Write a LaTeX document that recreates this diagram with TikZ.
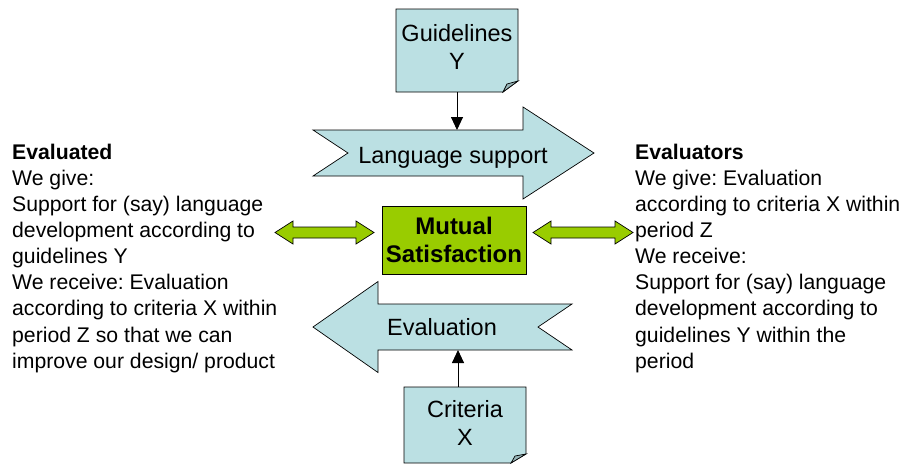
\documentclass[tikz,border=0pt]{standalone}
\usepackage{fontspec}
\setmainfont{Liberation Sans}
\usetikzlibrary{arrows.meta}
\definecolor{paleblue}{RGB}{187,224,227}
\definecolor{foldblue}{RGB}{150,180,183}
\definecolor{limegreen}{RGB}{153,204,0}
\frenchspacing
\begin{document}
\begin{tikzpicture}[x=1pt,y=-1pt,
  shapeline/.style={draw=black, line width=0.7pt, line join=miter},
  bluefill/.style={shapeline, fill=paleblue},
  greenfill/.style={shapeline, fill=limegreen},
  notebox/.style={inner sep=0pt, minimum width=122pt, minimum height=83pt},
  sidetext/.style={inner sep=0pt, align=left, anchor=north west, font=\fontsize{21.2}{26.1}\selectfont},
  boxtext/.style={inner sep=0pt, align=center, font=\fontsize{23.5}{28}\selectfont},
  conn/.style={line width=0.9pt, -{Triangle[length=13pt,width=12pt]}}
]
\useasboundingbox (0,0) rectangle (905,464);

% Guidelines note
\node[notebox] (guide) at (457,50.5) {};
\path[bluefill] (396,9) -- (518,9) -- (518,81) -- (503,92) -- (396,92) -- cycle;
\path[shapeline, fill=foldblue] (503,92) -- (507,84) -- (518,81) -- cycle;
\node[boxtext] (guidetext) at (457,47.4) {Guidelines\\Y};

% Language support arrow
\path[bluefill] (313,130) -- (523,130) -- (523,107) -- (594,153) -- (523,199) -- (523,176) -- (313,176) -- (348,153) -- cycle;
\node[boxtext, anchor=base] (lang) at (453,163) {Language support};
\coordinate (langtop) at (457,130);

% Mutual satisfaction
\node[greenfill, minimum width=144pt, minimum height=68pt, inner sep=0pt, align=center,
  font=\fontsize{24}{28}\selectfont\bfseries] (mutual) at (454,240) {Mutual\\Satisfaction};

% Double arrows
\path[greenfill] (275,232.5) -- (293,221) -- (293,227) -- (356,227) -- (356,221) -- (374,232.5) -- (356,244) -- (356,238) -- (293,238) -- (293,244) -- cycle;
\path[greenfill] (533,232.5) -- (551,221) -- (551,227) -- (615,227) -- (615,221) -- (633,232.5) -- (615,244) -- (615,238) -- (551,238) -- (551,244) -- cycle;

% Evaluation arrow
\path[bluefill] (313,327) -- (378,281.5) -- (378,304) -- (572,304) -- (538,327) -- (572,350) -- (378,350) -- (378,372.5) -- cycle;
\node[boxtext, anchor=base] (evaltext) at (442,335) {Evaluation};
\coordinate (evalbottom) at (458,350);

% Criteria note
\node[notebox, minimum height=76pt] (crit) at (465,425) {};
\path[bluefill] (404,387) -- (526,387) -- (526,454) -- (511,463) -- (404,463) -- cycle;
\path[shapeline, fill=foldblue] (511,463) -- (515,456) -- (526,454) -- cycle;
\node[boxtext] (crittext) at (465,422.5) {Criteria\\X};

% Connectors
\draw[conn] (guide.south) -- (langtop);
\draw[conn] (crit.north -| evalbottom) -- (evalbottom);

% Side texts
\node[sidetext] (evaluated) at (12,143.8) {\textbf{Evaluated}\\We give:\\Support for (say) language\\development according to\\guidelines Y\\We receive: Evaluation\\according to criteria X within\\period Z so that we can\\improve our design/ product};
\node[sidetext] (evaluators) at (635,143.8) {\textbf{Evaluators}\\We give: Evaluation\\according to criteria X within\\period Z\\We receive:\\Support for (say) language\\development according to\\guidelines Y within the\\period};
\end{tikzpicture}
\end{document}
